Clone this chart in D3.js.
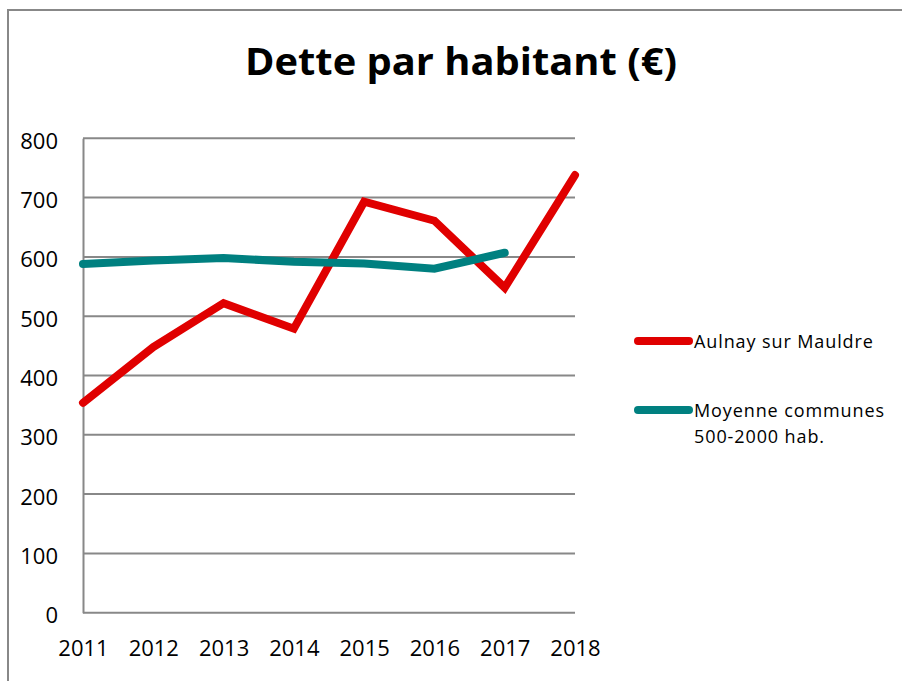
<!DOCTYPE html>
<html><head><meta charset="utf-8">
<script src="https://cdn.jsdelivr.net/npm/d3@7"></script>
<style>body{margin:0;background:#fff}svg{display:block}</style>
</head><body>
<script>
const years = ["2011","2012","2013","2014","2015","2016","2017","2018"];
const aulnay = [354, 448, 522, 479, 693, 661, 548, 738];
const moyenne = [588, 594, 598, 592, 589, 580, 607, null];
const yTicks = [0,100,200,300,400,500,600,700,800];
const seriesNames = ["Aulnay sur Mauldre", ["Moyenne communes","500-2000 hab."]];
const colors = ["#E00000", "#008080"];

const W = 902, H = 681;
const svg = d3.select("body").append("svg").attr("width", W).attr("height", H);
svg.append("rect").attr("x", 8).attr("y", 10).attr("width", 1200).attr("height", 900)
  .attr("fill", "#fff").attr("stroke", "#888").attr("stroke-width", 2);

const font = "'Open Sans', sans-serif";
const x = d3.scalePoint().domain(years).range([83, 575]);
const y = d3.scaleLinear().domain([0, 800]).range([612.7, 138.3]);

// gridlines
svg.append("g").selectAll("line").data(yTicks).join("line")
  .attr("x1", 83).attr("x2", 575).attr("y1", d => y(d)).attr("y2", d => y(d))
  .attr("stroke", "#888").attr("stroke-width", 2);

// y axis
const ya = svg.append("g").attr("transform", "translate(83,0)")
  .call(d3.axisLeft(y).tickValues(yTicks).tickSize(0).tickPadding(25));
ya.select(".domain").attr("stroke", "#888").attr("stroke-width", 2);
ya.selectAll("text").attr("font-family", font).attr("font-size", 22).attr("fill", "#000")
  .attr("dy", "0.45em");

// x axis
const xa = svg.append("g").attr("transform", `translate(0,${y(0)})`)
  .call(d3.axisBottom(x).tickSize(0).tickPadding(28));
xa.select(".domain").remove();
xa.selectAll("text").attr("font-family", font).attr("font-size", 22).attr("fill", "#000");

// lines
const line = d3.line().defined(d => d.v != null).x(d => x(d.k)).y(d => y(d.v));
[aulnay, moyenne].forEach((s, i) => {
  svg.append("path").datum(years.map((k, j) => ({k, v: s[j]})))
    .attr("d", line).attr("fill", "none").attr("stroke", colors[i])
    .attr("stroke-width", 8).attr("stroke-linecap", "round").attr("stroke-linejoin", "miter");
});

// title
svg.append("text").attr("x", 461).attr("y", 74.5).attr("text-anchor", "middle")
  .attr("font-family", "'Open Sans', sans-serif").attr("font-weight", "bold").attr("font-size", 37)
  .attr("textLength", 432).attr("lengthAdjust", "spacingAndGlyphs")
  .text("Dette par habitant (€)");

// legend
const legY = [341, 410];
seriesNames.forEach((nm, i) => {
  svg.append("line").attr("x1", 638).attr("x2", 689).attr("y1", legY[i]).attr("y2", legY[i])
    .attr("stroke", colors[i]).attr("stroke-width", 8).attr("stroke-linecap", "round");
  const lines = Array.isArray(nm) ? nm : [nm];
  lines.forEach((t, k) => {
    svg.append("text").attr("x", 694).attr("y", legY[i] + 7 + k * 26)
      .attr("font-family", font).attr("font-size", 18).attr("letter-spacing", 0.9)
      .attr("fill", "#000").text(t);
  });
});
</script>
</body></html>
